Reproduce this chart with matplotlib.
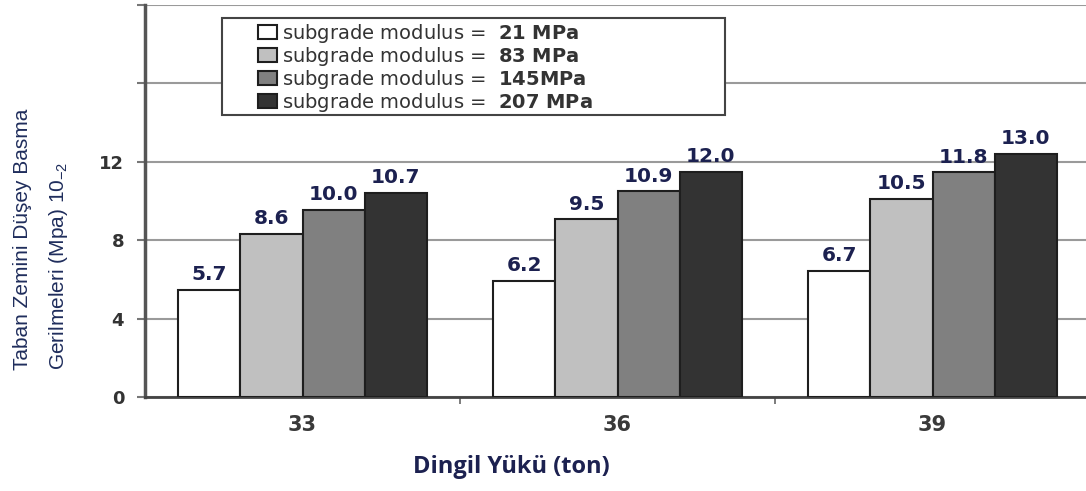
import matplotlib
matplotlib.use('Agg')
import matplotlib.pyplot as plt
import numpy as np
from matplotlib.patches import Rectangle
from matplotlib import font_manager

# ---- data ----
categories = ['33', '36', '39']
series_names = ['21 MPa', '83 MPa', '145MPa', '207 MPa']
bar_21 = [5.45, 5.92, 6.43]
bar_83 = [8.31, 9.07, 10.11]
bar_145 = [9.55, 10.49, 11.46]
bar_207 = [10.40, 11.48, 12.40]
label_21 = ['5.7', '6.2', '6.7']
label_83 = ['8.6', '9.5', '10.5']
label_145 = ['10.0', '10.9', '11.8']
label_207 = ['10.7', '12.0', '13.0']
ygrid = [0, 4, 8, 12, 16, 20]
ytick_labeled = [0, 4, 8, 12]

plt.rcParams['mathtext.fontset'] = 'custom'
plt.rcParams['mathtext.rm'] = 'DejaVu Sans'
plt.rcParams['mathtext.bf'] = 'DejaVu Sans:bold'

names = {f.name for f in font_manager.fontManager.ttflist}
if 'Liberation Sans Narrow' in names:
    ylab_family, ylab_size = 'Liberation Sans Narrow', 18
else:
    ylab_family, ylab_size = 'Liberation Sans', 15

W, H = 1086, 491
fig = plt.figure(figsize=(W / 100, H / 100), dpi=100)
ax = fig.add_axes([145 / W, 94 / H, 945 / W, 392 / H])

colors = ['#ffffff', '#c0c0c0', '#808080', '#333333']
values = [bar_21, bar_83, bar_145, bar_207]
labels = [label_21, label_83, label_145, label_207]
x = np.arange(len(categories)) + 0.5
w = 0.197
containers = []
for i, (vals, labs, col) in enumerate(zip(values, labels, colors)):
    bars = ax.bar(x + (i - 1.5) * w, vals, w, color=col, edgecolor='#1e1e1e',
                  linewidth=1.5, zorder=3)
    containers.append(bars)
    for b, lab in zip(bars, labs):
        ax.annotate(lab, (b.get_x() + b.get_width() / 2, b.get_height()),
                    xytext=(0, 7), textcoords='offset points', ha='center',
                    va='baseline', fontsize=14.5, fontweight='bold',
                    color='#1c2150', zorder=4)

ax.set_xlim(0, 3)
ax.set_ylim(0, 20)
ax.set_yticks(ygrid)
ax.set_yticklabels([str(v) if v in ytick_labeled else '' for v in ygrid],
                   fontweight='bold')
ax.yaxis.grid(True, color='#9a9a9a', lw=1.5)
ax.set_axisbelow(True)
ax.tick_params(axis='y', length=6, width=1.5, color='#777777', pad=9,
               labelsize=13, labelcolor='#333333')

ax.set_xticks(x)
ax.set_xticklabels(categories, fontweight='semibold')
ax.set_xticks([1, 2], minor=True)
ax.tick_params(axis='x', which='major', length=0, pad=13, labelsize=15,
               labelcolor='#3a3a3a')
ax.tick_params(axis='x', which='minor', length=5, width=1.2, color='#666666')

for s in ['top', 'right']:
    ax.spines[s].set_visible(False)
ax.spines['left'].set_color('#555555')
ax.spines['left'].set_linewidth(2.5)
ax.spines['bottom'].set_color('#444444')
ax.spines['bottom'].set_linewidth(2)

# legend frame and legend
ax.add_patch(Rectangle((222 / W, 1 - 115 / H), 503 / W, 97 / H,
                       transform=fig.transFigure, facecolor='white',
                       edgecolor='#444444', lw=1.5, zorder=4.5, clip_on=False))
leg_labels = ['subgrade modulus =  $\\mathbf{%s}$' % n.replace(' ', '\\ ')
              for n in series_names]
leg = ax.legend(containers, leg_labels, loc='upper left',
                bbox_to_anchor=(258 / W, 1 - 22 / H),
                bbox_transform=fig.transFigure, frameon=False,
                borderpad=0, borderaxespad=0, handlelength=1.0,
                handleheight=0.72, handletextpad=0.25, labelspacing=0.0,
                prop={'family': 'DejaVu Sans', 'size': 14},
                labelcolor='#333333')
leg.set_zorder(5)

# axis titles
fig.text(511 / W, 1 - 467 / H, 'Dingil Yükü (ton)', ha='center', va='center',
         fontsize=17, fontweight='bold', family='Open Sans', color='#1c2150')
fig.text(22 / W, 1 - 370 / H, 'Taban Zemini Düşey Basma', rotation=90,
         rotation_mode='anchor', ha='left', va='center', fontsize=ylab_size,
         family=ylab_family, color='#1f2d5c')
fig.text(58 / W, 1 - 370 / H, 'Gerilmeleri (Mpa) 10$_{\\mathregular{-2}}$',
         rotation=90, rotation_mode='anchor', ha='left', va='center',
         fontsize=ylab_size, family=ylab_family, color='#1f2d5c')

fig.savefig('out.png', dpi=100)
